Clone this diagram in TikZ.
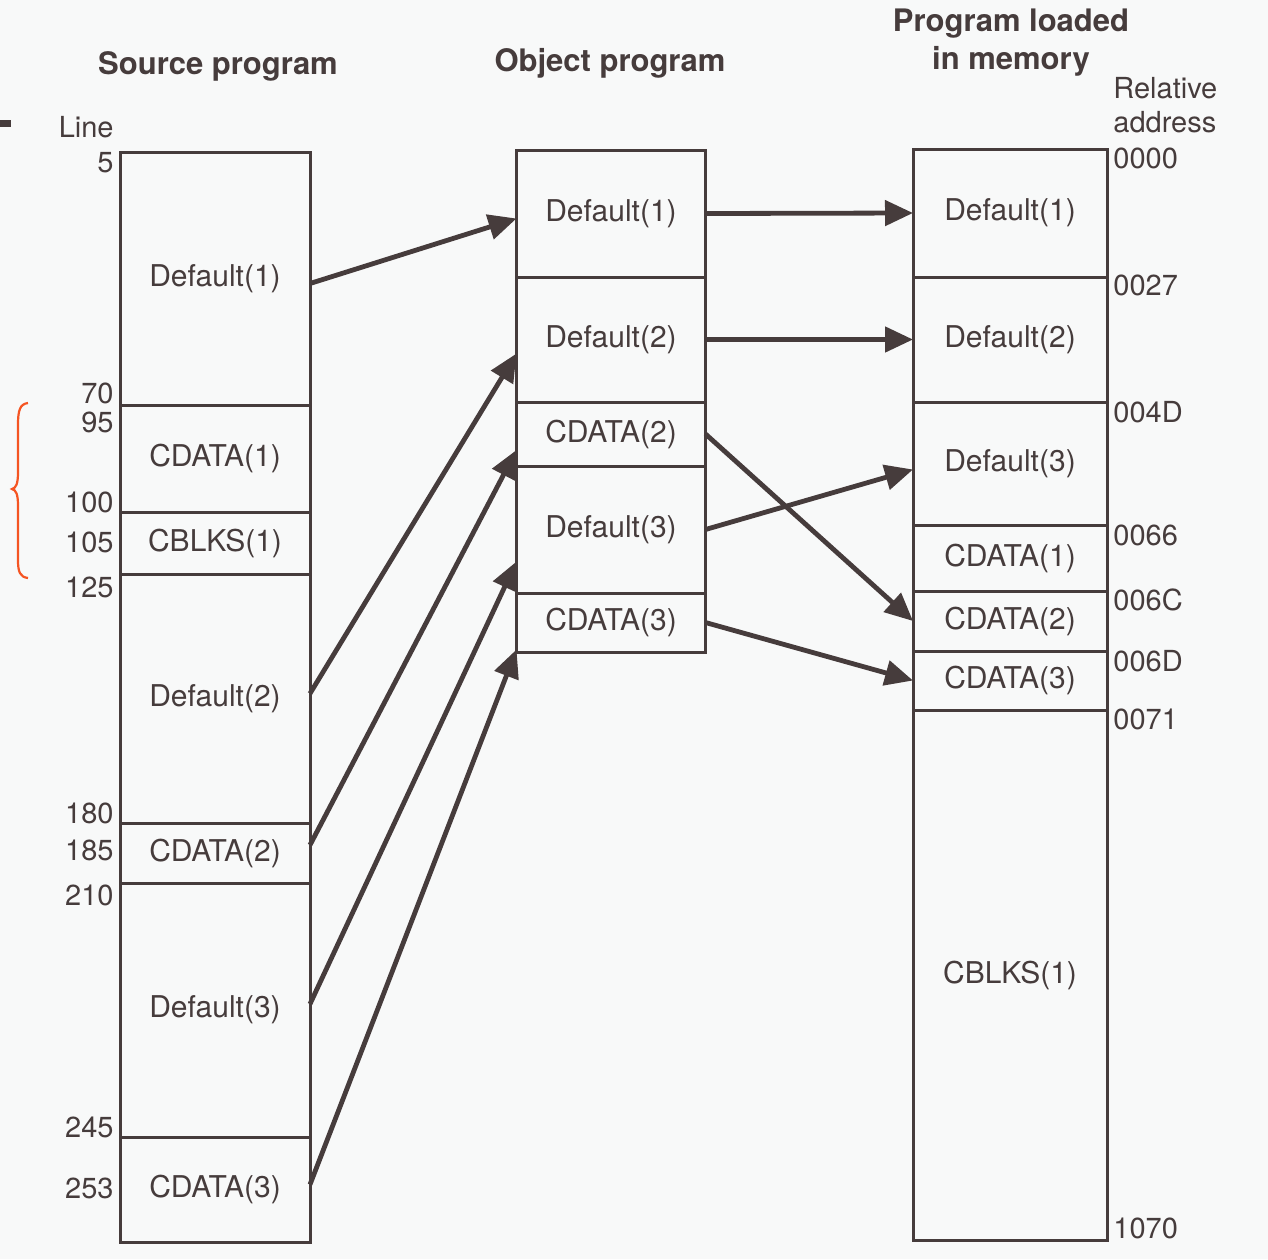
\documentclass[tikz,border=0pt]{standalone}
\usepackage{fontspec}
\setmainfont{TeX Gyre Heros}
\usepackage{tikz}
\usetikzlibrary{positioning}
\usetikzlibrary{calc}
\usetikzlibrary{arrows.meta}
\definecolor{ink}{RGB}{70,60,60}
\definecolor{paper}{RGB}{248,249,249}
\definecolor{pen}{RGB}{245,85,35}

\begin{document}
\begin{tikzpicture}[x=0.5pt,y=-0.5pt,
		seg/.style={rectangle,draw=ink,line width=1.5pt,inner sep=0pt,outer sep=0pt,text=ink,font=\fontsize{15}{17}\selectfont},
		lft/.style={seg,minimum width=95pt},
		mid/.style={seg,minimum width=94.5pt},
		rgt/.style={seg,minimum width=97pt},
		num/.style={text=ink,inner sep=0pt,font=\fontsize{14.5}{16}\selectfont},
		head/.style={text=ink,inner sep=0pt,align=center,font=\fontsize{15.5}{19}\selectfont\bfseries},
		link/.style={draw=ink,line width=2.4pt,-{Triangle[length=14pt,width=12.5pt]}}]
			
			\fill[paper] (0,0) rectangle (1268,1259);
			\fill[ink] (0,120) rectangle (11,127);
			
			\node[head] (srcT) at (218,66) {Source program};
			\node[head] (objT) at (610,63) {Object program};
			\node[head] (memT) at (1011,43) {Program loaded\\in memory};
			
			\node[lft,minimum height=126.5pt] (s1) at (215,278.5) {Default(1)};
			\node[lft,minimum height=53.5pt] (s2) at (215,458.5) {CDATA(1)};
			\node[lft,minimum height=31pt] (s3) at (215,543) {CBLKS(1)};
			\node[lft,minimum height=124.5pt] (s4) at (215,698.5) {Default(2)};
			\node[lft,minimum height=30pt] (s5) at (215,853) {CDATA(2)};
			\node[lft,minimum height=127pt] (s6) at (215,1010) {Default(3)};
			\node[lft,minimum height=52.5pt] (s7) at (215,1189.5) {CDATA(3)};
			
			\node[num,anchor=east] (lineT) at (114,127) {Line};
			\node[num,anchor=east] (n5) at (114,163) {5};
			\node[num,anchor=east] (n70) at (114,393) {70};
			\node[num,anchor=east] (n95) at (114,422) {95};
			\node[num,anchor=east] (n100) at (114,502) {100};
			\node[num,anchor=east] (n105) at (114,542) {105};
			\node[num,anchor=east] (n125) at (114,587) {125};
			\node[num,anchor=east] (n180) at (114,813) {180};
			\node[num,anchor=east] (n185) at (114,850) {185};
			\node[num,anchor=east] (n210) at (114,895) {210};
			\node[num,anchor=east] (n245) at (114,1127) {245};
			\node[num,anchor=east] (n253) at (114,1188) {253};
			
			\node[mid,minimum height=63.5pt] (m1) at (611,213.5) {Default(1)};
			\node[mid,minimum height=62.5pt] (m2) at (611,339.5) {Default(2)};
			\node[mid,minimum height=32pt] (m3) at (611,434) {CDATA(2)};
			\node[mid,minimum height=63.5pt] (m4) at (611,529.5) {Default(3)};
			\node[mid,minimum height=29.5pt] (m5) at (611,622.5) {CDATA(3)};
			
			\node[rgt,minimum height=64pt] (r1) at (1010,213) {Default(1)};
			\node[rgt,minimum height=62.5pt] (r2) at (1010,339.5) {Default(2)};
			\node[rgt,minimum height=61.5pt] (r3) at (1010,463.5) {Default(3)};
			\node[rgt,minimum height=33pt] (r4) at (1010,558) {CDATA(1)};
			\node[rgt,minimum height=30pt] (r5) at (1010,621) {CDATA(2)};
			\node[rgt,minimum height=29.5pt] (r6) at (1010,680.5) {CDATA(3)};
			\node[rgt,minimum height=265pt] (r7) at (1010,975) {CBLKS(1)};
			
			\node[num,anchor=west] (relT) at (1113,88) {Relative};
			\node[num,anchor=west] (addrT) at (1113,122) {address};
			\node[num,anchor=west] (a0000) at (1113,158) {0000};
			\node[num,anchor=west] (a0027) at (1113,285) {0027};
			\node[num,anchor=west] (a004D) at (1113,412) {004D};
			\node[num,anchor=west] (a0066) at (1113,535) {0066};
			\node[num,anchor=west] (a006C) at (1113,600) {006C};
			\node[num,anchor=west] (a006D) at (1113,661) {006D};
			\node[num,anchor=west] (a0071) at (1113,719) {0071};
			\node[num,anchor=west] (a1070) at (1113,1228) {1070};
			
			\draw[link] ($(s1.east)+(0,5)$) -- ($(m1.west)+(0,5)$);
			\draw[link] ($(s4.east)+(0,-5)$) -- ($(m2.west)+(0,14)$);
			\draw[link] ($(s5.east)+(0,-8)$) -- ($(m3.west)+(0,16)$);
			\draw[link] ($(s6.east)+(0,-6)$) -- ($(m4.west)+(0,32)$);
			\draw[link] ($(s7.east)+(0,-5)$) -- ($(m5.west)+(0,27)$);
			
			\draw[link] (m1.east) -- (r1.west);
			\draw[link] (m2.east) -- (r2.west);
			\draw[link] (m3.east) -- (r5.west);
			\draw[link] (m4.east) -- ($(r3.west)+(0,6)$);
			\draw[link] (m5.east) -- (r6.west);
			
			\draw[pen,line width=1.1pt] (28,403) .. controls (20,404) and (18,410) .. (18,425) -- (18,472) .. controls (18,484) and (16,488) .. (12,489) .. controls (16,490) and (18,494) .. (18,506) -- (18,560) .. controls (18,572) and (20,577) .. (28,578);
			
		\end{tikzpicture}
\end{document}
